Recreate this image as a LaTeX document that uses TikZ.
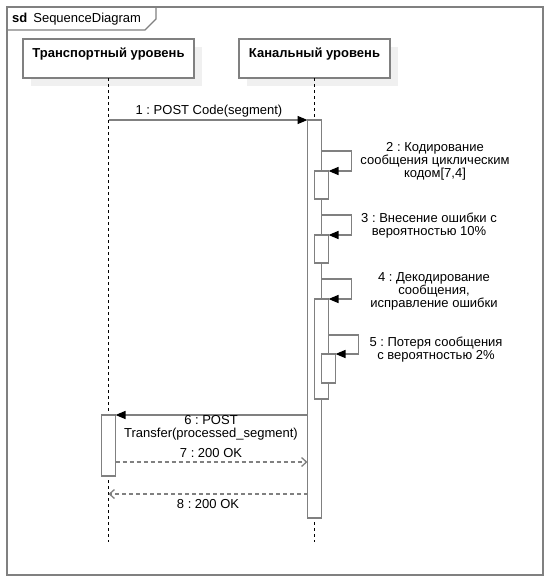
\documentclass[tikz,border=0pt]{standalone}
\usepackage{fontspec}
\setmainfont{Liberation Sans}
\usetikzlibrary{positioning}
\usetikzlibrary{arrows.meta}
\usetikzlibrary{calc}
\usetikzlibrary{shadows}
\frenchspacing
\colorlet{mygray}{black!50}
\colorlet{myshadow}{black!6}
\tikzstyle{myframe}=[draw=mygray,line width=1.3pt]
\tikzstyle{mylife}=[draw=mygray,fill=white,line width=1.5pt,anchor=north west,inner sep=0pt,outer sep=0pt,
                    text height=18.5pt,text depth=20.5pt,font=\fontsize{13}{13}\bfseries\selectfont,
                    drop shadow={shadow xshift=8pt,shadow yshift=-8pt,fill=myshadow,opacity=1}]
\tikzstyle{mybar}=[draw=mygray,fill=white,line width=1.5pt,anchor=north,inner sep=0pt,outer sep=0pt,
                   minimum width=14pt,minimum height=#1]
\tikzstyle{mylifeline}=[black,line width=1pt,dash pattern=on 3pt off 3pt]
\tikzstyle{mycall}=[-{Triangle[length=10pt,width=8pt,color=black]},mygray,line width=1.3pt]
\tikzstyle{myreturn}=[-{Straight Barb[length=5pt,width=9pt]},mygray,line width=1.3pt,
                      dash pattern=on 4pt off 3pt]
\tikzstyle{mytext}=[inner sep=0pt,align=center,anchor=north]

\begin{document}
\begin{tikzpicture}[x=1pt,y=-1pt,font=\fontsize{13}{13}\selectfont]
  \useasboundingbox (0,0) rectangle (551,581);

  % frame
  \draw[myframe] (7,7) rectangle (543,575);
  \draw[myframe] (7,30) -- (145,30) -- (156,19) -- (156,7);
  \node[anchor=base west,inner sep=0pt] (sd) at (12,22) {\textbf{sd}\hspace{6pt}SequenceDiagram};

  % lifelines
  \node[mylife,minimum width=171pt] (tr) at (23,39) {Транспортный уровень};
  \node[mylife,minimum width=151pt,right=45pt of tr] (ch) {Канальный уровень};
  \coordinate (trend) at (tr.south |- 0,542);
  \coordinate (chend) at (ch.south |- 0,542);
  \draw[mylifeline] (tr) -- (trend);
  \draw[mylifeline] (ch) -- (chend);

  % activations
  \node[mybar=398pt] (act0) at (ch.south |- 0,120) {};
  \node[mybar=28pt] (act2) at ($(act0.north)+(7,51)$) {};
  \node[mybar=28pt] (act3) at ($(act0.north)+(7,115)$) {};
  \node[mybar=100pt] (act4) at ($(act0.north)+(7,179)$) {};
  \node[mybar=29pt] (act5) at ($(act4.north)+(7,55)$) {};
  \node[mybar=61pt] (act6) at (tr.south |- 0,415) {};

  % 1
  \draw[mycall] (tr.south |- act0.north) -- (act0.north west);
  \node[mytext] (l1) at (209,105) {1 : POST Code(segment)};

  % 2
  \draw[mycall] ($(act0.north east)+(0,31)$) -| ($(act2.north east)+(23,0)$) -- (act2.north east);
  \node[mytext] (l2) at (435,142) {2 : Кодирование\\сообщения циклическим\\кодом[7,4]};

  % 3
  \draw[mycall] ($(act0.north east)+(0,95)$) -| ($(act3.north east)+(23,0)$) -- (act3.north east);
  \node[mytext] (l3) at (429,213) {3 : Внесение ошибки с\\вероятностью 10\%};

  % 4
  \draw[mycall] ($(act0.north east)+(0,159)$) -| ($(act4.north east)+(23,0)$) -- (act4.north east);
  \node[mytext] (l4) at (434,272) {4 : Декодирование\\сообщения,\\исправление ошибки};

  % 5
  \draw[mycall] ($(act4.north east)+(0,36)$) -| ($(act5.north east)+(23,0)$) -- (act5.north east);
  \node[mytext] (l5) at (436,337) {5 : Потеря сообщения\\с вероятностью 2\%};

  % 6
  \draw[mycall] ($(act0.north west)+(0,295)$) -- (act6.north east);
  \node[mytext] (l6) at (211,415) {6 : POST\\Transfer(processed\_segment)};

  % 7
  \draw[myreturn] ($(act6.north east)+(0,47)$) coordinate (m7) -- (act0.west |- m7);
  \node[mytext] (l7) at (211,448) {7 : 200 OK};

  % 8
  \draw[myreturn] ($(act0.north west)+(0,374)$) coordinate (m8) -- (tr.south |- m8);
  \node[mytext] (l8) at (208,499) {8 : 200 OK};

\end{tikzpicture}
\end{document}
